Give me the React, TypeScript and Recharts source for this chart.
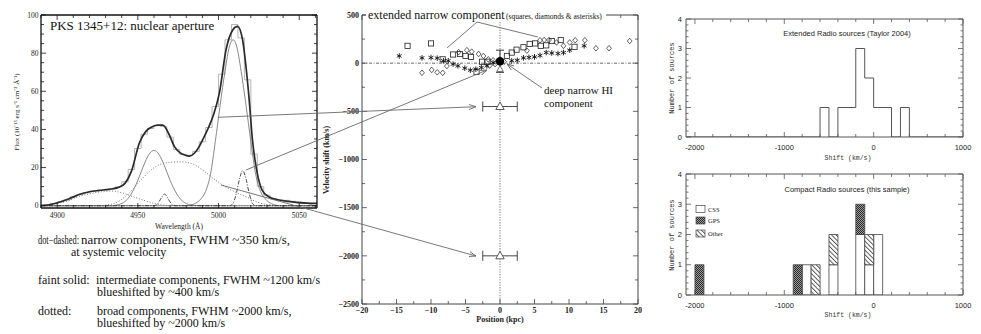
import React from 'react';
import {
  ComposedChart, LineChart, ScatterChart, Line, Bar, Scatter, ErrorBar,
  XAxis, YAxis, ReferenceLine,
} from 'recharts';

const SERIF = '"Liberation Serif", "Times New Roman", Times, serif';
const SANS = '"Liberation Sans", Arial, Helvetica, sans-serif';
const MONO = '"Liberation Mono", "Courier New", monospace';

// ================= Panel 1: [OIII] spectrum =================
const obsWave = [4890, 4894, 4898, 4902, 4906, 4910, 4914, 4918, 4922, 4926, 4930, 4934, 4938, 4942, 4946, 4950, 4954, 4958, 4962, 4966, 4970, 4974, 4978, 4982, 4986, 4990, 4994, 4998, 5002, 5006, 5010, 5014, 5018, 5022, 5026, 5030, 5034, 5038, 5042, 5046, 5050, 5054, 5058];
const obsFlux = [0.2, 0.4, 1.2, 1.9, 3.0, 4.6, 5.8, 6.8, 7.6, 8.0, 8.4, 8.9, 9.8, 12.5, 19, 30, 37.5, 40.5, 42, 41.5, 36, 29.5, 27, 26.5, 28.5, 33.5, 41, 52, 69, 87, 95, 88, 66, 27, 10, 5.5, 3.6, 3.0, 2.8, 2.3, 1.8, 1.2, 0.8];

const fitWave = [4890, 4895, 4901, 4907, 4914, 4920, 4926, 4932, 4938, 4942, 4946, 4951, 4955, 4958, 4962, 4965.5, 4969, 4972.7, 4976, 4979, 4982, 4985, 4988, 4991, 4994, 4997, 5000.5, 5004.6, 5008.7, 5011.8, 5014.9, 5017, 5019, 5021, 5024, 5027, 5031, 5037.5, 5043, 5048, 5055, 5061];
const fitFlux = [0.1, 0.5, 1.8, 3.5, 6, 7.3, 8, 8.6, 9.6, 11.7, 18, 33, 39, 41, 42.3, 42.3, 38, 31, 27.8, 26.6, 26, 27.5, 31, 36, 41.4, 48, 59, 81.6, 92, 94, 87, 73, 55.4, 34.5, 17, 8.2, 4.7, 3.0, 2.3, 1.8, 1.4, 1.2];

const intAWave = [4890, 4934, 4938, 4941, 4944, 4947, 4950, 4953, 4956, 4958, 4960, 4962, 4964, 4967, 4970, 4973, 4976, 4979, 4983, 4988, 5061];
const intAFlux = [0, 0, 0.6, 1.6, 3.9, 7.8, 13.3, 19.8, 25.6, 28.1, 29, 28.1, 25.6, 19.8, 13.3, 7.8, 3.9, 1.6, 0.4, 0, 0];

const intBWave = [4890, 4980, 4985, 4989, 4992, 4995, 4998, 5001, 5004, 5007, 5009, 5011, 5014, 5017, 5020, 5023, 5026, 5029, 5033, 5038, 5061];
const intBFlux = [0, 0, 1.0, 3.5, 7.5, 16.5, 33.7, 52.8, 70.5, 84.3, 87, 84.3, 70.5, 52.8, 33.7, 16.5, 7.5, 3.5, 1.0, 0, 0];

const broadAWave = [4890, 4900, 4907, 4914, 4920, 4927, 4934, 4940, 4947, 4955, 4962, 4970, 4980, 5061];
const broadAFlux = [0.3, 1.2, 2.6, 5.0, 6.2, 7.3, 7.7, 6.8, 4.7, 2.5, 0.8, 0.1, 0, 0];

const broadBWave = [4890, 4925, 4931, 4938, 4945, 4953, 4961, 4969, 4977, 4985, 4992, 4998, 5004, 5010, 5017, 5025, 5032, 5040, 5061];
const broadBFlux = [0, 0, 0.4, 2.2, 7, 14.5, 20.5, 22.7, 23, 21.5, 17.5, 13.5, 10, 7.3, 4.7, 1.6, 0.4, 0.05, 0];

const narrowWave = [4890, 4960, 4962, 4964, 4966.5, 4969, 4971, 4973, 5007, 5009, 5011, 5013, 5015, 5017, 5019, 5021, 5023, 5061];
const narrowFlux = [0, 0, 0.7, 3.3, 6.1, 3.3, 0.7, 0, 0, 1.3, 6.4, 14.1, 18.4, 14.1, 6.4, 1.3, 0, 0];

const specXTicks = [4890, 4900, 4910, 4920, 4930, 4940, 4950, 4960, 4970, 4980, 4990, 5000, 5010, 5020, 5030, 5040, 5050, 5060];
const specXMajor = [4900, 4950, 5000, 5050];
const specYTicks = [0, 5, 10, 15, 20, 25, 30, 35, 40, 45, 50, 55, 60, 65, 70, 75, 80, 85, 90, 95, 100];
const specYMajor = [0, 20, 40, 60, 80, 100];

// ================= Panel 2: velocity shift vs position =================
const squarePos = [-13.4, -10, -8.3, -6.8, -5.8, -5, -4.2, -3.4, -2.6, -1.8, 1, 1.7, 2.4, 3.4, 4.3, 5.1, 5.9, 6.7, 7.5, 8.8, 10.8];
const squareVel = [180, 205, 40, 90, 95, 75, 65, -90, 15, 15, 75, 110, 140, 165, 200, 205, 180, 185, 230, 240, 170];

const diamondPos = [-11.3, -9.9, -9.1, -8.3, -7.7, -6, -4.8, -4.1, -3.1, -2.4, -1.7, -1, -1.5, -0.7, 0.6, 3.9, 5.8, 6.4, 7.1, 8.2, 9.2, 10.1, 10.9, 12.3, 13.9, 15.8, 18.8];
const diamondVel = [-100, -70, -95, -100, -30, 115, 135, 120, 95, 75, 40, 30, -25, -10, 15, 130, 238, 241, 241, 215, 180, 215, 238, 238, 155, 155, 230];

const asteriskPos = [-14.6, -11.3, -10, -9.1, -8.2, -7.5, -6.8, -6.1, -5.1, -4.3, -3.5, -2.7, -1.9, -1, 1.7, 2.5, 3.4, 4.2, 5, 5.8, 6.7, 7.5, 8.4, 9.2, 10.1, 12.2];
const asteriskVel = [75, 55, 58, 52, 25, 25, -10, -28, -52, -73, -62, -45, -28, 5, 25, 30, 55, 60, 65, 80, 110, 105, 100, 110, 135, 180];

const hiPos = [0];
const hiVel = [20];
const hiErr = [115];

const triPos = [0, 0];
const triVel = [-450, -2000];
const triErr = [2.5, 2.5];
const centreTriPos = [0];
const centreTriVel = [-60];

const posTicks = [-20, -17.5, -15, -12.5, -10, -7.5, -5, -2.5, 0, 2.5, 5, 7.5, 10, 12.5, 15, 17.5, 20];
const posMajor = [-20, -15, -10, -5, 0, 5, 10, 15, 20];
const velTicks = [-2500, -2250, -2000, -1750, -1500, -1250, -1000, -750, -500, -250, 0, 250, 500];
const velMajor = [-2500, -2000, -1500, -1000, -500, 0, 500];

// ================= Panels 3 & 4: shift histograms =================
const extEdges = [-2100, -600, -500, -400, -200, -100, 0, 200, 300, 400, 1000];
const extCounts = [0, 1, 0, 1, 3, 2, 1, 0, 1, 0, 0];

const shiftBins = [-2100, -2000, -1900, -1800, -1700, -1600, -1500, -1400, -1300, -1200, -1100, -1000, -900, -800, -700, -600, -500, -400, -300, -200, -100, 0, 100, 200, 300, 400, 500, 600, 700, 800, 900];
const cssBins = [-800, -500, -200, -100, 0];
const cssCounts = [1, 1, 2, 1, 2];
const gpsBins = [-2000, -900, -200];
const gpsCounts = [1, 1, 1];
const otherBins = [-700, -500, -100];
const otherCounts = [1, 1, 1];

const shiftTicks = [-2000, -1800, -1600, -1400, -1200, -1000, -800, -600, -400, -200, 0, 200, 400, 600, 800, 1000];
const shiftMajor = [-2000, -1000, 0, 1000];
const countTicks = [0, 0.2, 0.4, 0.6, 0.8, 1, 1.2, 1.4, 1.6, 1.8, 2, 2.2, 2.4, 2.6, 2.8, 3, 3.2, 3.4, 3.6, 3.8, 4];
const countMajor = [0, 1, 2, 3, 4];
const shiftDomainEnds = [-2100, 1000];

// ---------- helpers ----------
const zip = (xs: number[], ys: number[]) => xs.map((x, i) => ({ x, y: ys[i] }));
const countFor = (bins: number[], counts: number[], b: number) => {
  const i = bins.indexOf(b);
  return i >= 0 ? counts[i] : 0;
};
const histTable = shiftBins.map((b) => ({
  bin: b,
  css: countFor(cssBins, cssCounts, b),
  gps: countFor(gpsBins, gpsCounts, b),
  other: countFor(otherBins, otherCounts, b),
}));
const extTable = zip(extEdges, extCounts);
const anchorTable = shiftDomainEnds.map((x) => ({ x, y: 0 }));

type Side = 'bottom' | 'top' | 'left' | 'right';
interface TickSpec {
  side: Side; major: number[]; majorLen: number; minorLen: number; color: string;
  label?: boolean; format?: (v: number) => string; font?: string; size?: number;
  weight?: number | string; gap?: number; textColor?: string; width?: number;
}
function makeTick(s: TickSpec) {
  return function Tick(props: any) {
    const { x, y, payload } = props;
    const v = Number(payload && payload.value);
    const isMajor = s.major.some((m) => Math.abs(m - v) < 1e-9);
    const len = isMajor ? s.majorLen : s.minorLen;
    let x2 = x; let y2 = y;
    if (s.side === 'bottom') y2 = y - len;
    if (s.side === 'top') y2 = y + len;
    if (s.side === 'left') x2 = x + len;
    if (s.side === 'right') x2 = x - len;
    let text: React.ReactNode = null;
    if (s.label && isMajor) {
      const str = s.format ? s.format(v) : String(v);
      const size = s.size ?? 8;
      const gap = s.gap ?? 3;
      const common = { fontFamily: s.font, fontSize: size, fontWeight: s.weight as any, fill: s.textColor ?? '#222' };
      if (s.side === 'bottom') text = <text x={x} y={y + gap + size * 0.72} textAnchor="middle" {...common}>{str}</text>;
      if (s.side === 'left') text = <text x={x - gap} y={y + size * 0.35} textAnchor="end" {...common}>{str}</text>;
    }
    return (
      <g>
        <line x1={x} y1={y} x2={x2} y2={y2} stroke={s.color} strokeWidth={s.width ?? 0.8} />
        {text}
      </g>
    );
  };
}
const minusFmt = (v: number) => (v < 0 ? '\u2212' + Math.abs(v) : String(v));
const hyphenFmt = (v: number) => String(v);

// ---------- scatter marker shapes ----------
const SquareShape = (p: any) => (
  <rect x={p.cx - 2.6} y={p.cy - 2.6} width={5.2} height={5.2} fill="none" stroke="#222" strokeWidth={0.8} />
);
const DiamondShape = (p: any) => (
  <path d={`M${p.cx},${p.cy - 2.8}L${p.cx + 2.4},${p.cy}L${p.cx},${p.cy + 2.8}L${p.cx - 2.4},${p.cy}Z`} fill="none" stroke="#222" strokeWidth={0.7} />
);
const AsteriskShape = (p: any) => {
  const r = 2.8; const cx = p.cx; const cy = p.cy;
  const a = r * 0.866; const b = r * 0.5;
  return (
    <g stroke="#111" strokeWidth={0.9}>
      <line x1={cx} y1={cy - r} x2={cx} y2={cy + r} />
      <line x1={cx - a} y1={cy - b} x2={cx + a} y2={cy + b} />
      <line x1={cx - a} y1={cy + b} x2={cx + a} y2={cy - b} />
    </g>
  );
};
const DotShape = (p: any) => <circle cx={p.cx} cy={p.cy} r={4.2} fill="#000" />;
const TriangleShape = (p: any) => (
  <path d={`M${p.cx},${p.cy - 4.5}L${p.cx + 4.2},${p.cy + 3}L${p.cx - 4.2},${p.cy + 3}Z`} fill="#fff" stroke="#333" strokeWidth={0.8} />
);
const SmallTriangleShape = (p: any) => (
  <path d={`M${p.cx},${p.cy - 3.5}L${p.cx + 3.2},${p.cy + 2.5}L${p.cx - 3.2},${p.cy + 2.5}Z`} fill="#fff" stroke="#555" strokeWidth={0.8} />
);

// ================= charts =================
function SpectrumChart() {
  const c = '#111';
  return (
    <LineChart width={330} height={240} margin={{ top: 14, right: 12, bottom: 12, left: 11 }}>
      <XAxis xAxisId="b" type="number" dataKey="x" domain={[4890, 5061]} allowDataOverflow ticks={specXTicks} interval={0}
        tickSize={0} tickMargin={0} height={20} tickLine={false} axisLine={{ stroke: c, strokeWidth: 1.3 }}
        tick={makeTick({ side: 'bottom', major: specXMajor, majorLen: 5, minorLen: 3, color: c, label: true, font: SERIF, size: 7.5, gap: 5 })} />
      <XAxis xAxisId="t" orientation="top" type="number" dataKey="x" domain={[4890, 5061]} allowDataOverflow ticks={specXTicks} interval={0}
        tickSize={0} tickMargin={0} height={1} tickLine={false} axisLine={{ stroke: c, strokeWidth: 1.3 }}
        tick={makeTick({ side: 'top', major: specXMajor, majorLen: 5, minorLen: 3, color: c })} />
      <YAxis yAxisId="l" type="number" domain={[-1.2, 100]} allowDataOverflow ticks={specYTicks} interval={0}
        tickSize={0} tickMargin={0} width={30} tickLine={false} axisLine={{ stroke: c, strokeWidth: 1.3 }}
        tick={makeTick({ side: 'left', major: specYMajor, majorLen: 5, minorLen: 3, color: c, label: true, font: SERIF, size: 7.5, gap: 2.5 })} />
      <YAxis yAxisId="r" orientation="right" type="number" domain={[-1.2, 100]} allowDataOverflow ticks={specYTicks} interval={0}
        tickSize={0} tickMargin={0} width={1} tickLine={false} axisLine={{ stroke: c, strokeWidth: 1.3 }}
        tick={makeTick({ side: 'right', major: specYMajor, majorLen: 5, minorLen: 3, color: c })} />
      <Line xAxisId="b" yAxisId="l" data={zip(obsWave, obsFlux)} dataKey="y" type="step" dot={false} stroke="#b4b4b4" strokeWidth={1} isAnimationActive={false} />
      <Line xAxisId="b" yAxisId="l" data={zip(broadAWave, broadAFlux)} dataKey="y" type="monotone" dot={false} stroke="#666" strokeWidth={0.9} strokeDasharray="1 1.8" isAnimationActive={false} />
      <Line xAxisId="b" yAxisId="l" data={zip(broadBWave, broadBFlux)} dataKey="y" type="monotone" dot={false} stroke="#666" strokeWidth={0.9} strokeDasharray="1 1.8" isAnimationActive={false} />
      <Line xAxisId="b" yAxisId="l" data={zip(intAWave, intAFlux)} dataKey="y" type="monotone" dot={false} stroke="#7a7a7a" strokeWidth={0.9} isAnimationActive={false} />
      <Line xAxisId="b" yAxisId="l" data={zip(intBWave, intBFlux)} dataKey="y" type="monotone" dot={false} stroke="#7a7a7a" strokeWidth={0.9} isAnimationActive={false} />
      <Line xAxisId="b" yAxisId="l" data={zip(narrowWave, narrowFlux)} dataKey="y" type="monotone" dot={false} stroke="#333" strokeWidth={0.9} strokeDasharray="4 1.5 1 1.5" isAnimationActive={false} />
      <Line xAxisId="b" yAxisId="l" data={zip(fitWave, fitFlux)} dataKey="y" type="monotone" dot={false} stroke="#2a2a2a" strokeWidth={1.7} isAnimationActive={false} />
    </LineChart>
  );
}

function VelocityChart() {
  const c = '#444';
  const pts = (xs: number[], ys: number[]) => zip(xs, ys);
  return (
    <ScatterChart width={330} height={334} margin={{ top: 14, right: 11, bottom: 10, left: 12 }}>
      <XAxis xAxisId="b" type="number" dataKey="x" domain={[-20, 20]} allowDataOverflow ticks={posTicks} interval={0}
        tickSize={0} tickMargin={0} height={20} tickLine={false} axisLine={{ stroke: c, strokeWidth: 1 }}
        tick={makeTick({ side: 'bottom', major: posMajor, majorLen: 5, minorLen: 3, color: c, label: true, font: SERIF, size: 8, weight: 700, gap: 3, format: minusFmt })} />
      <XAxis xAxisId="t" orientation="top" type="number" dataKey="x" domain={[-20, 20]} allowDataOverflow ticks={posTicks} interval={0}
        tickSize={0} tickMargin={0} height={1} tickLine={false} axisLine={{ stroke: c, strokeWidth: 1 }}
        tick={makeTick({ side: 'top', major: posMajor, majorLen: 5, minorLen: 3, color: c })} />
      <YAxis yAxisId="l" type="number" dataKey="y" domain={[-2500, 500]} allowDataOverflow ticks={velTicks} interval={0}
        tickSize={0} tickMargin={0} width={30} tickLine={false} axisLine={{ stroke: c, strokeWidth: 1 }}
        tick={makeTick({ side: 'left', major: velMajor, majorLen: 5, minorLen: 3, color: c, label: true, font: SERIF, size: 8, weight: 700, gap: 3, format: minusFmt })} />
      <YAxis yAxisId="r" orientation="right" type="number" dataKey="y" domain={[-2500, 500]} allowDataOverflow ticks={velTicks} interval={0}
        tickSize={0} tickMargin={0} width={1} tickLine={false} axisLine={{ stroke: c, strokeWidth: 1 }}
        tick={makeTick({ side: 'right', major: velMajor, majorLen: 5, minorLen: 3, color: c })} />
      <ReferenceLine xAxisId="b" yAxisId="l" y={0} stroke="#444" strokeWidth={0.8} strokeDasharray="3 1.5 1 1.5" />
      <ReferenceLine xAxisId="b" yAxisId="l" x={0} stroke="#9a9a9a" strokeWidth={1.3} strokeDasharray="1.3 1.3" />
      <Scatter xAxisId="b" yAxisId="l" data={pts(diamondPos, diamondVel)} shape={DiamondShape} isAnimationActive={false} />
      <Scatter xAxisId="b" yAxisId="l" data={pts(squarePos, squareVel)} shape={SquareShape} isAnimationActive={false} />
      <Scatter xAxisId="b" yAxisId="l" data={pts(asteriskPos, asteriskVel)} shape={AsteriskShape} isAnimationActive={false} />
      <Scatter xAxisId="b" yAxisId="l" data={pts(centreTriPos, centreTriVel)} shape={SmallTriangleShape} isAnimationActive={false} />
      <Scatter xAxisId="b" yAxisId="l" data={triPos.map((x, i) => ({ x, y: triVel[i], e: triErr[i] }))} shape={TriangleShape} isAnimationActive={false}>
        <ErrorBar dataKey="e" direction="x" width={5} stroke="#333" strokeWidth={0.9} isAnimationActive={false} />
      </Scatter>
      <Scatter xAxisId="b" yAxisId="l" data={hiPos.map((x, i) => ({ x, y: hiVel[i], e: hiErr[i] }))} shape={DotShape} isAnimationActive={false}>
        <ErrorBar dataKey="e" direction="y" width={4} stroke="#333" strokeWidth={1} isAnimationActive={false} />
      </Scatter>
    </ScatterChart>
  );
}

function histAxes(c: string) {
  return [
    <XAxis key="nb" xAxisId="num" type="number" dataKey="x" domain={[-2100, 1000]} allowDataOverflow ticks={shiftTicks} interval={0}
      tickSize={0} tickMargin={0} height={20} tickLine={false} axisLine={{ stroke: c, strokeWidth: 1 }}
      tick={makeTick({ side: 'bottom', major: shiftMajor, majorLen: 5, minorLen: 3, color: c, label: true, font: SANS, size: 7.5, gap: 7.5, format: hyphenFmt })} />,
    <XAxis key="nt" xAxisId="t" orientation="top" type="number" dataKey="x" domain={[-2100, 1000]} allowDataOverflow ticks={shiftTicks} interval={0}
      tickSize={0} tickMargin={0} height={1} tickLine={false} axisLine={{ stroke: c, strokeWidth: 1 }}
      tick={makeTick({ side: 'top', major: shiftMajor, majorLen: 5, minorLen: 3, color: c })} />,
    <YAxis key="yl" yAxisId="l" type="number" domain={[0, 4]} allowDataOverflow ticks={countTicks} interval={0}
      tickSize={0} tickMargin={0} width={15} tickLine={false} axisLine={{ stroke: c, strokeWidth: 1 }}
      tick={makeTick({ side: 'left', major: countMajor, majorLen: 5, minorLen: 2.5, color: c, label: true, font: SANS, size: 7.5, gap: 4 })} />,
    <YAxis key="yr" yAxisId="r" orientation="right" type="number" domain={[0, 4]} allowDataOverflow ticks={countTicks} interval={0}
      tickSize={0} tickMargin={0} width={1} tickLine={false} axisLine={{ stroke: c, strokeWidth: 1 }}
      tick={makeTick({ side: 'right', major: countMajor, majorLen: 5, minorLen: 2.5, color: c })} />,
  ];
}

function ExtendedHist() {
  const c = '#555';
  return (
    <ComposedChart width={311} height={165} margin={{ top: 18, right: 17, bottom: 8, left: 1 }}>
      {histAxes(c)}
      <Line xAxisId="num" yAxisId="l" data={extTable} dataKey="y" type="stepAfter" dot={false} stroke="#555" strokeWidth={1} isAnimationActive={false} />
    </ComposedChart>
  );
}

function CompactHist() {
  const c = '#555';
  return (
    <ComposedChart width={311} height={174} data={histTable} margin={{ top: 13, right: 17, bottom: 19, left: 1 }} barCategoryGap={0} barGap={0}>
      {histAxes(c)}
      <XAxis xAxisId="cat" dataKey="bin" type="category" hide height={0} />
      <Bar xAxisId="cat" yAxisId="l" dataKey="css" stackId="s" fill="#fff" stroke="#444" strokeWidth={0.8} isAnimationActive={false} />
      <Bar xAxisId="cat" yAxisId="l" dataKey="gps" stackId="s" fill="url(#gpsPat)" stroke="#444" strokeWidth={0.8} isAnimationActive={false} />
      <Bar xAxisId="cat" yAxisId="l" dataKey="other" stackId="s" fill="url(#otherPat)" stroke="#444" strokeWidth={0.8} isAnimationActive={false} />
      <Line xAxisId="num" yAxisId="l" data={anchorTable} dataKey="y" dot={false} stroke="none" isAnimationActive={false} />
    </ComposedChart>
  );
}

function Overlay() {
  const ann = { fontFamily: SERIF, fontSize: 12, fill: '#111' } as const;
  const grey = '#6a6a6a';
  return (
    <svg width={981} height={334} style={{ position: 'absolute', left: 0, top: 0, pointerEvents: 'none' }}>
      <defs>
        <marker id="arrowHead" markerWidth={7} markerHeight={6} refX={7} refY={3} orient="auto" markerUnits="userSpaceOnUse">
          <path d="M0,0.5 L7,3 L0,5.5" fill="none" stroke={grey} strokeWidth={0.9} />
        </marker>
      </defs>
      {/* spectrum labels */}
      <text x={50} y={30} fontFamily={SERIF} fontSize={13} fill="#111">PKS 1345+12: nuclear aperture</text>
      <text transform="translate(19,112) rotate(-90)" textAnchor="middle" fontFamily={SERIF} fontSize={7} fill="#222">Flux (10⁻¹⁵ erg s⁻¹ cm⁻² Å⁻¹)</text>
      <text x={179} y={229} textAnchor="middle" fontFamily={SERIF} fontSize={7.5} fill="#222">Wavelength (Å)</text>

      <text x={38} y={244} textLength={41} lengthAdjust="spacingAndGlyphs" {...ann}>dot−dashed:</text>
      <text {...ann}>
        <tspan x={81} y={244} textLength={209} lengthAdjust="spacingAndGlyphs">narrow components, FWHM ~350 km/s,</tspan>
        <tspan x={71} y={256}>at systemic velocity</tspan>
      </text>
      <text x={38} y={284} {...ann}>faint solid:</text>
      <text {...ann}>
        <tspan x={96} y={284}>intermediate components, FWHM ~1200 km/s</tspan>
        <tspan x={97} y={296}>blueshifted by ~400 km/s</tspan>
      </text>
      <text x={38} y={315} {...ann}>dotted:</text>
      <text {...ann}>
        <tspan x={97} y={315}>broad components, FWHM ~2000 km/s,</tspan>
        <tspan x={97} y={327}>blueshifted by ~2000 km/s</tspan>
      </text>

      {/* pointers from spectrum to velocity panel */}
      <line x1={218} y1={117.3} x2={476} y2={106.7} stroke={grey} strokeWidth={0.9} markerEnd="url(#arrowHead)" />
      <line x1={246} y1={170} x2={487} y2={70} stroke={grey} strokeWidth={0.9} markerEnd="url(#arrowHead)" />
      <line x1={221} y1={185} x2={476} y2={256} stroke={grey} strokeWidth={0.9} markerEnd="url(#arrowHead)" />

      {/* velocity panel annotations */}
      <rect x={366} y={10} width={240} height={12} fill="#fff" />
      <text x={368} y={19} fontFamily={SERIF} fontSize={12} fill="#111">extended narrow component</text>
      <text x={506} y={19} fontFamily={SERIF} fontSize={7.5} fill="#111">(squares, diamonds &amp; asterisks)</text>
      <line x1={477} y1={22} x2={447} y2={48} stroke={grey} strokeWidth={0.9} />
      <line x1={477} y1={22} x2={538} y2={37} stroke={grey} strokeWidth={0.9} />
      <text fontFamily={SERIF} fontSize={11} fill="#111">
        <tspan x={544} y={94}>deep narrow HI</tspan>
        <tspan x={544} y={106.5}>component</tspan>
      </text>
      <line x1={542} y1={88} x2={507} y2={64} stroke={grey} strokeWidth={0.9} markerEnd="url(#arrowHead)" />
      <text x={500} y={322} textAnchor="middle" fontFamily={SERIF} fontSize={8} fontWeight={700} fill="#222">Position (kpc)</text>
      <text transform="translate(329,160) rotate(-90)" textAnchor="middle" fontFamily={SERIF} fontSize={8} fontWeight={700} fill="#222">Velocity shift (km/s)</text>

      {/* histogram annotations */}
      <text x={847} y={35.5} textAnchor="middle" fontFamily={SANS} fontSize={7.5} fill="#222">Extended Radio sources (Taylor 2004)</text>
      <text transform="translate(674,78) rotate(-90)" textAnchor="middle" fontFamily={MONO} fontSize={7} fill="#333">Number of sources</text>
      <text x={848} y={160} textAnchor="middle" fontFamily={MONO} fontSize={6.5} fill="#333">Shift (km/s)</text>

      <text x={847} y={191.5} textAnchor="middle" fontFamily={SANS} fontSize={7.5} fill="#222">Compact Radio sources (this sample)</text>
      <text transform="translate(674,235) rotate(-90)" textAnchor="middle" fontFamily={MONO} fontSize={7} fill="#333">Number of sources</text>
      <text x={848} y={317} textAnchor="middle" fontFamily={MONO} fontSize={6.5} fill="#333">Shift (km/s)</text>

      {/* legend */}
      <rect x={696} y={205.5} width={9} height={7} fill="#fff" stroke="#444" strokeWidth={0.7} />
      <text x={708} y={211.5} fontFamily={SERIF} fontSize={6.5} fill="#222">CSS</text>
      <rect x={696} y={217} width={9} height={7} fill="url(#gpsPat)" stroke="#444" strokeWidth={0.7} />
      <text x={708} y={223} fontFamily={SERIF} fontSize={6.5} fill="#222">GPS</text>
      <rect x={696} y={230} width={9} height={7} fill="url(#otherPat)" stroke="#444" strokeWidth={0.7} />
      <text x={708} y={236} fontFamily={SERIF} fontSize={6.5} fill="#222">Other</text>
    </svg>
  );
}

export default function App() {
  return (
    <div style={{ position: 'absolute', left: 0, top: 0, width: 981, height: 334, background: '#fff', overflow: 'hidden' }}>
      <svg width={0} height={0} style={{ position: 'absolute' }}>
        <defs>
          <pattern id="gpsPat" width={2} height={2} patternUnits="userSpaceOnUse">
            <rect x={0} y={0} width={2} height={2} fill="#9a9a9a" />
            <rect x={0} y={0} width={1} height={1} fill="#2a2a2a" />
            <rect x={1} y={1} width={1} height={1} fill="#2a2a2a" />
          </pattern>
          <pattern id="otherPat" width={3.2} height={3.2} patternUnits="userSpaceOnUse" patternTransform="rotate(-45)">
            <rect x={0} y={0} width={3.2} height={3.2} fill="#fff" />
            <line x1={0.5} y1={0} x2={0.5} y2={3.2} stroke="#333" strokeWidth={0.8} />
          </pattern>
        </defs>
      </svg>
      <div style={{ position: 'absolute', left: 0, top: 0 }}><SpectrumChart /></div>
      <div style={{ position: 'absolute', left: 320, top: 0 }}><VelocityChart /></div>
      <div style={{ position: 'absolute', left: 670, top: 0 }}><ExtendedHist /></div>
      <div style={{ position: 'absolute', left: 670, top: 160 }}><CompactHist /></div>
      <Overlay />
    </div>
  );
}
